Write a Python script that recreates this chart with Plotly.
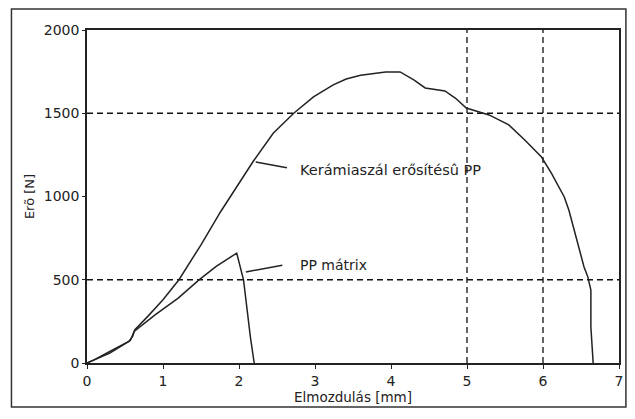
import plotly.graph_objects as go

# Kerámiaszál erősítésû PP (ceramic fibre reinforced PP)
cer_x = [0, 0.1, 0.3, 0.55, 0.6, 0.63, 0.8, 1.0, 1.21, 1.5, 1.76, 2.0, 2.19, 2.45, 2.72,
         2.98, 3.24, 3.41, 3.6, 3.93, 4.12, 4.3, 4.45, 4.71, 4.85, 4.99, 5.29, 5.55, 5.76,
         5.98, 6.11, 6.28, 6.34, 6.54, 6.59, 6.63, 6.63, 6.66]
cer_y = [0, 20, 70, 130, 160, 200, 280, 380, 500, 710, 910, 1080, 1213, 1380, 1500,
         1598, 1670, 1706, 1728, 1748, 1748, 1700, 1652, 1634, 1590, 1531, 1490, 1430, 1339,
         1237, 1141, 997, 919, 577, 517, 438, 216, 0]

# PP mátrix
pp_x = [0, 0.3, 0.57, 0.62, 0.9, 1.2, 1.47, 1.7, 1.97, 2.06, 2.15, 2.2]
pp_y = [0, 60, 135, 190, 290, 390, 498, 580, 660, 498, 156, 0]

x_ticks = [0, 1, 2, 3, 4, 5, 6, 7]
y_ticks = [0, 500, 1000, 1500, 2000]
x_grid = [5, 6]
y_grid = [500, 1500]

line_col = "#222222"
font = dict(family="DejaVu Sans, Verdana, sans-serif", size=13, color="#222222")

fig = go.Figure()
fig.add_trace(go.Scatter(x=cer_x, y=cer_y, mode="lines",
                         line=dict(color=line_col, width=1.5), showlegend=False))
fig.add_trace(go.Scatter(x=pp_x, y=pp_y, mode="lines",
                         line=dict(color=line_col, width=1.5), showlegend=False))

shapes = []
for gx in x_grid:
    shapes.append(dict(type="line", xref="x", yref="y", x0=gx, x1=gx, y0=0, y1=2000,
                       line=dict(color="#111111", width=1.3, dash="6px,4px"), layer="below"))
for gy in y_grid:
    shapes.append(dict(type="line", xref="x", yref="y", x0=0, x1=7, y0=gy, y1=gy,
                       line=dict(color="#111111", width=1.3, dash="6px,4px"), layer="below"))
# outer frame
shapes.append(dict(type="rect", xref="paper", yref="paper", x0=-0.142, x1=1.013,
                   y0=-0.132, y1=1.063, line=dict(color="#333333", width=1.5)))

fig.update_layout(
    width=627, height=411,
    margin=dict(l=79, r=12, t=22, b=56),
    paper_bgcolor="white", plot_bgcolor="white",
    font=font,
    shapes=shapes,
    xaxis=dict(range=[0, 7], tickvals=x_ticks, showgrid=False, zeroline=False,
               showline=True, mirror=True, linecolor="#222222", linewidth=1.5,
               ticks="outside", ticklen=4, tickcolor="#222222",
               tickfont=dict(size=14),
               title=dict(text="Elmozdulás [mm]", standoff=0, font=dict(size=13.5))),
    yaxis=dict(range=[0, 2000], tickvals=y_ticks, showgrid=False, zeroline=False,
               showline=True, mirror=True, linecolor="#222222", linewidth=1.5,
               ticks="outside", ticklen=3, tickcolor="#222222",
               tickfont=dict(size=14),
               title=dict(text="Erõ [N]", standoff=6, font=dict(size=13))),
    annotations=[
        dict(x=2.22, y=1207, ax=2.65, ay=1171, xref="x", yref="y", axref="x", ayref="y",
             text="", showarrow=True, arrowhead=0, arrowwidth=1.5, arrowcolor=line_col),
        dict(x=2.77, y=1160, xref="x", yref="y", text="Kerámiaszál erősítésû PP",
             showarrow=False, xanchor="left", yanchor="middle", font=dict(size=14.5)),
        dict(x=2.09, y=547, ax=2.59, ay=589, xref="x", yref="y", axref="x", ayref="y",
             text="", showarrow=True, arrowhead=0, arrowwidth=1.5, arrowcolor=line_col),
        dict(x=2.77, y=589, xref="x", yref="y", text="PP mátrix",
             showarrow=False, xanchor="left", yanchor="middle", font=dict(size=14)),
    ],
)

fig.write_html("out.html")
